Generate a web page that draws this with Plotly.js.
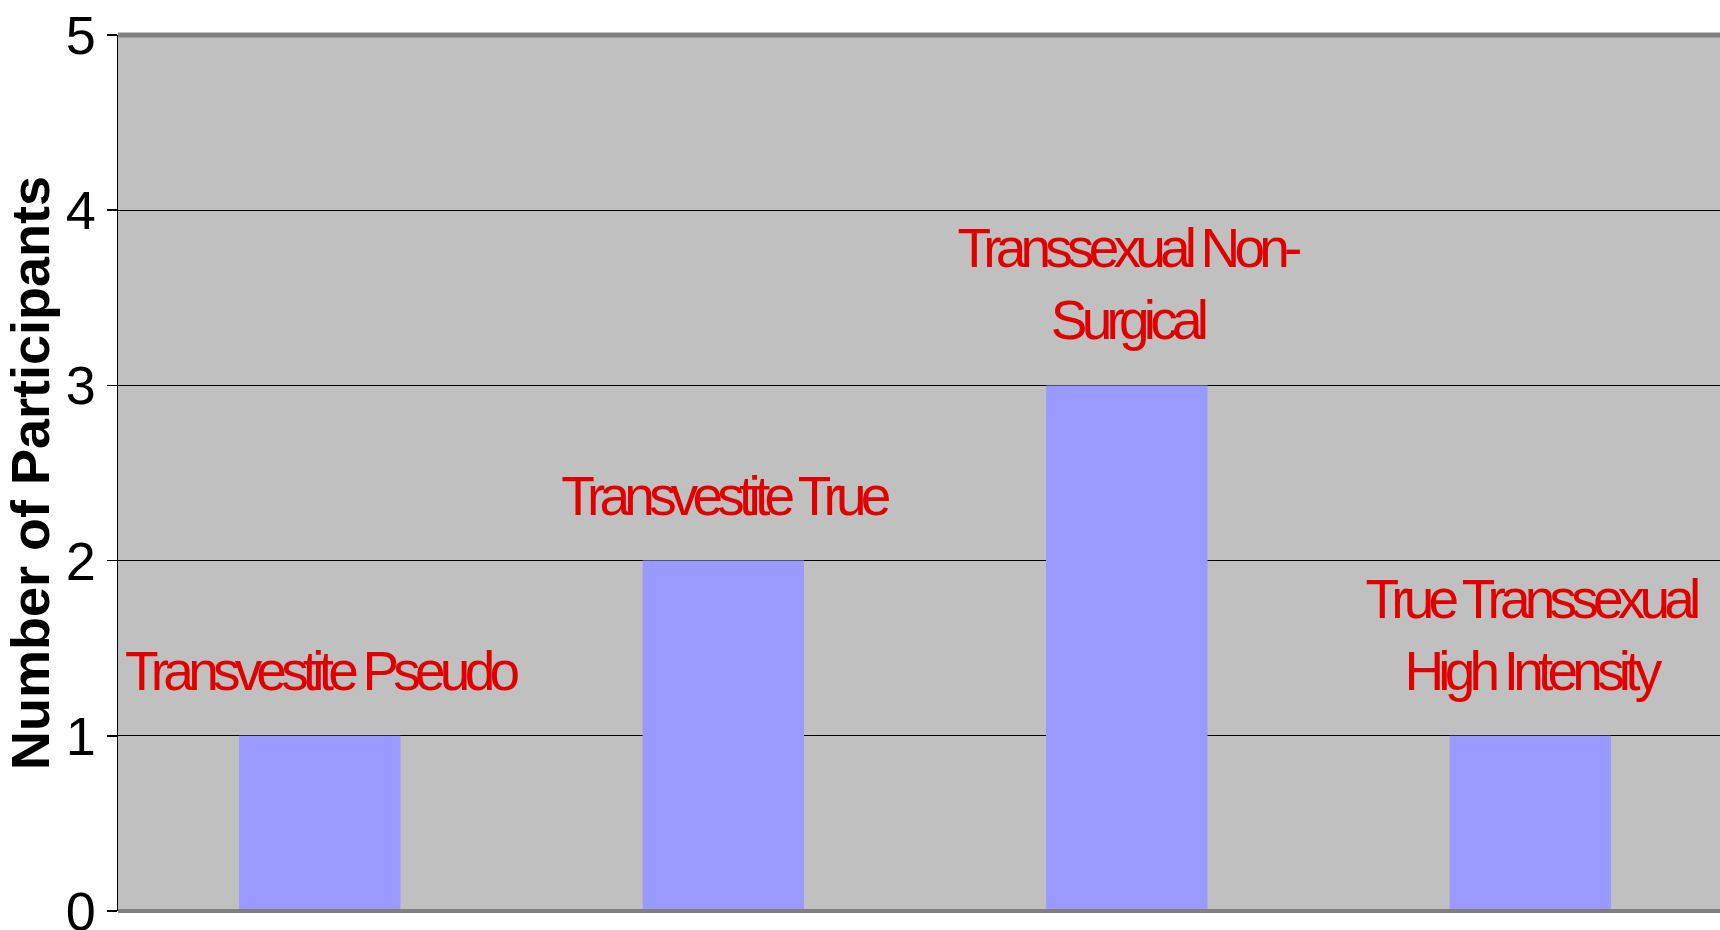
<!DOCTYPE html>
<html>
<head>
<meta charset="utf-8">
<script src="https://cdn.plot.ly/plotly-3.0.1.min.js"></script>
<style>
  html, body { margin: 0; padding: 0; overflow: hidden; background: #ffffff; }
  #chart { width: 1720px; height: 930px; }
  #chart .annotation-text { letter-spacing: -5.8px; }
</style>
</head>
<body>
<div id="chart"></div>
<script>
// Data
const categories = ["Transvestite Pseudo", "Transvestite True", "Transsexual Non-Surgical", "True Transsexual High Intensity"];
const labelTexts = ["Transvestite Pseudo", "Transvestite True", "Transsexual Non-<br>Surgical", "True Transsexual<br>High Intensity"];
const participants = [1, 2, 3, 1];
const yTickValues = [0, 1, 2, 3, 4, 5];
const yAxisTitle = "Number of Participants";

const trace = {
  type: "bar",
  x: categories,
  y: participants,
  marker: { color: "#9999ff", line: { width: 0 } },
  hoverinfo: "x+y"
};

const annotations = categories.map((c, i) => ({
  x: c,
  y: participants[i],
  xref: "x",
  yref: "y",
  text: labelTexts[i],
  showarrow: false,
  xanchor: "center",
  yanchor: "bottom",
  yshift: 32,
  align: "center",
  font: { family: "'Liberation Sans', Arial, sans-serif", size: 55, color: "#e00000" }
}));

const layout = {
  width: 1720,
  height: 930,
  margin: { l: 118, r: 0, t: 35, b: 19, pad: 0 },
  paper_bgcolor: "#ffffff",
  plot_bgcolor: "#c0c0c0",
  showlegend: false,
  bargap: 0.6,
  xaxis: {
    type: "category",
    range: [-0.5, 3.47],
    showticklabels: false,
    ticks: "",
    showgrid: false,
    zeroline: false,
    showline: false,
    fixedrange: true
  },
  yaxis: {
    range: [0, 5],
    tickvals: yTickValues,
    ticktext: yTickValues.map(String),
    ticks: "outside",
    ticklen: 10,
    tickwidth: 1.5,
    tickcolor: "#000000",
    ticklabelstandoff: 0,
    ticklabeloverflow: "allow",
    tickfont: { family: "'Liberation Sans', Arial, sans-serif", size: 54, color: "#000000" },
    showgrid: true,
    gridcolor: "#000000",
    gridwidth: 1,
    zeroline: false,
    showline: true,
    linecolor: "#000000",
    linewidth: 1.5,
    automargin: false,
    title: {
      text: yAxisTitle,
      font: { family: "'Liberation Sans', Arial, sans-serif", size: 54, color: "#000000", weight: "bold" },
      standoff: 8
    },
    fixedrange: true
  },
  shapes: [
    { type: "line", xref: "paper", yref: "paper", x0: 0, x1: 1, y0: 1, y1: 1, line: { color: "#808080", width: 5 } },
    { type: "line", xref: "paper", yref: "paper", x0: 0, x1: 1, y0: 0, y1: 0, line: { color: "#808080", width: 4 } }
  ],
  annotations: annotations
};

Plotly.newPlot("chart", [trace], layout, { displayModeBar: false, staticPlot: true });
</script>
</body>
</html>
